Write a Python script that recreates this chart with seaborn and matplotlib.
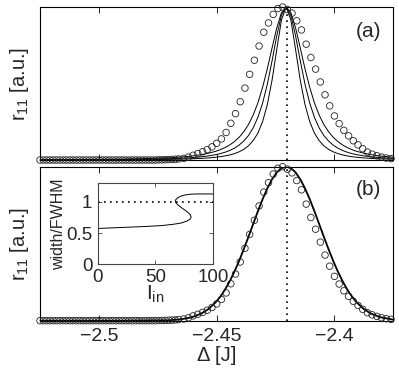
import numpy as np
import pandas as pd
import seaborn as sns
import matplotlib
matplotlib.use('Agg')
import matplotlib.pyplot as plt

# ---- data ----
# open circles (same set in both panels)
circ_x = np.concatenate([np.linspace(-2.525, -2.4662, 43),
                         np.linspace(-2.464, -2.376, 45)])
circ_y = [0.0, 0.0, 0.0, 0.0, 0.0, 0.0, 0.0, 0.0, 0.0, 0.0, 0.0, 0.0,
          0.0, 0.0, 0.0, 0.0, 0.0, 0.0, 0.0, 0.0, 0.0, 0.0, 0.0, 0.0,
          0.0, 0.0, 0.0, 0.0, 0.0, 0.0, 0.0, 0.0, 0.0, 0.0, 0.0, 0.0,
          0.001, 0.0015, 0.002, 0.003, 0.004, 0.005, 0.007,
          0.011, 0.019, 0.031, 0.042, 0.054, 0.068, 0.086, 0.109, 0.138,
          0.180, 0.240, 0.303, 0.381, 0.470, 0.560, 0.652, 0.745, 0.835,
          0.896, 0.952, 0.990, 1.0, 0.984, 0.960, 0.910, 0.850, 0.757,
          0.670, 0.594, 0.510, 0.426, 0.354, 0.288, 0.238, 0.194, 0.158,
          0.126, 0.099, 0.074, 0.052, 0.038, 0.028, 0.019, 0.013, 0.009]

# solid curves
line_x = [-2.525, -2.4905, -2.4705, -2.4655, -2.4605, -2.4565, -2.4535,
          -2.4505, -2.4485, -2.4465, -2.4445, -2.4425, -2.4405, -2.4385,
          -2.4365, -2.4345, -2.4325, -2.4305, -2.4285, -2.4265, -2.4245,
          -2.4225, -2.4205, -2.4185, -2.4165, -2.4145, -2.4125, -2.4105,
          -2.4085, -2.4065, -2.4045, -2.4025, -2.4005, -2.3985, -2.3965,
          -2.3945, -2.3925, -2.3905, -2.3875, -2.3845, -2.3805, -2.3755,
          -2.375]
line_a1 = [0.0017, 0.0054, 0.014, 0.019, 0.026, 0.0351, 0.0442, 0.0565,
           0.0673, 0.081, 0.098, 0.120, 0.148, 0.185, 0.232, 0.294, 0.374,
           0.475, 0.596, 0.732, 0.863, 0.963, 1.0,
           0.963, 0.863, 0.732, 0.596, 0.475, 0.374, 0.294, 0.232, 0.185,
           0.148, 0.120, 0.098, 0.081, 0.0673, 0.0565, 0.0442, 0.0351,
           0.026, 0.019, 0.0185]
line_a2 = [0.0010, 0.0031, 0.0083, 0.0113, 0.0157, 0.0211, 0.0268, 0.0347,
           0.0417, 0.0506, 0.0621, 0.0771, 0.0971, 0.124, 0.160, 0.210,
           0.279, 0.372, 0.495, 0.647, 0.811, 0.947, 1.0,
           0.947, 0.811, 0.647, 0.495, 0.372, 0.279, 0.210, 0.160, 0.124,
           0.0971, 0.0771, 0.0621, 0.0506, 0.0417, 0.0347, 0.0268, 0.0211,
           0.0157, 0.0113, 0.0109]
line_a3 = [0.0005, 0.0015, 0.0041, 0.0056, 0.0079, 0.0107, 0.0137, 0.0179,
           0.0217, 0.0266, 0.0330, 0.0416, 0.0534, 0.0697, 0.093, 0.127,
           0.176, 0.251, 0.362, 0.521, 0.722, 0.916, 1.0,
           0.916, 0.722, 0.521, 0.362, 0.251, 0.176, 0.127, 0.093, 0.0697,
           0.0534, 0.0416, 0.0330, 0.0266, 0.0217, 0.0179, 0.0137, 0.0107,
           0.0079, 0.0056, 0.0055]
line_b = [0.0, 0.0, 0.0027, 0.0082, 0.0224, 0.0461, 0.0755, 0.118, 0.155,
          0.201, 0.255, 0.317, 0.387, 0.464, 0.545, 0.628, 0.711, 0.789,
          0.859, 0.918, 0.963, 0.9905, 1.0,
          0.9905, 0.963, 0.918, 0.859, 0.789, 0.711, 0.628, 0.545, 0.464,
          0.387, 0.317, 0.255, 0.201, 0.155, 0.118, 0.0755, 0.0461, 0.0224,
          0.0082, 0.0069]
delta0 = -2.42

x_ticks = [-2.5, -2.45, -2.4]
x_ticklabels = ['\u22122.5', '\u22122.45', '\u22122.4']

# inset: width/FWHM vs I_in
inset_I = [0, 20, 40, 55, 65, 72, 77, 80, 81, 80, 77, 73, 69.5, 67.5,
           67.5, 69, 72, 76, 80, 85, 100]
inset_w = [0.575, 0.59, 0.605, 0.62, 0.64, 0.66, 0.69, 0.72, 0.76, 0.80,
           0.85, 0.90, 0.95, 0.99, 1.03, 1.06, 1.09, 1.11, 1.12, 1.125,
           1.125]
inset_ref = 1.0
inset_xticks = [0, 50, 100]
inset_yticks = [0, 0.5, 1]
inset_yticklabels = ['0', '0.5', '1']

# ---- style ----
sns.set_theme(style='white')
plt.rcParams['font.family'] = ['Liberation Sans', 'DejaVu Sans']
plt.rcParams['mathtext.fontset'] = 'custom'
plt.rcParams['mathtext.rm'] = 'Liberation Sans'
plt.rcParams['mathtext.it'] = 'Liberation Sans:italic'
plt.rcParams['axes.edgecolor'] = 'black'
plt.rcParams['axes.linewidth'] = 0.8

fig = plt.figure(figsize=(3.99, 3.71), dpi=100)
ax1 = fig.add_axes([0.1003, 0.5687, 0.8855, 0.4124])
ax2 = fig.add_axes([0.1003, 0.1356, 0.8855, 0.4151])
ins = fig.add_axes([0.2456, 0.2871, 0.2882, 0.2197])

# panel (a)
for y in (line_a1, line_a2, line_a3):
    sns.lineplot(x=line_x, y=y, ax=ax1, color='black', lw=0.7,
                 estimator=None, sort=False)
sns.scatterplot(x=circ_x, y=circ_y, ax=ax1, marker='o', s=22,
                facecolor='none', edgecolor='#222222', linewidth=0.6,
                clip_on=False, zorder=3)
ax1.axvline(delta0, color='black', lw=1.2, dashes=(1, 2.6))
ax1.text(0.93, 0.84, '(a)', transform=ax1.transAxes, ha='center',
         va='center', fontsize=15)

# panel (b)
sns.lineplot(x=line_x, y=line_b, ax=ax2, color='black', lw=1.3,
             estimator=None, sort=False)
sns.scatterplot(x=circ_x, y=circ_y, ax=ax2, marker='o', s=22,
                facecolor='none', edgecolor='#222222', linewidth=0.6,
                clip_on=False, zorder=3)
ax2.axvline(delta0, color='black', lw=1.2, dashes=(1, 2.6))
ax2.text(0.93, 0.855, '(b)', transform=ax2.transAxes, ha='center',
         va='center', fontsize=15)

for ax in (ax1, ax2):
    ax.set_xlim(-2.525, -2.375)
    ax.set_ylim(0, 1.0)
    ax.set_yticks([])
    ax.set_xticks(x_ticks)
    ax.tick_params(axis='x', direction='in', top=True, bottom=True,
                   length=4, width=0.6, color='black', labelsize=14, pad=5)
    ax.set_ylabel('r$_{\\mathrm{11}}$ [a.u.]', fontsize=14.5)
    ax.yaxis.set_label_coords(-0.025, 0.5)

ax1.tick_params(axis='x', labelbottom=False)
ax2.set_xticklabels(x_ticklabels)
ax2.set_xlabel('\u0394 [J]', fontsize=14.5)
ax2.xaxis.set_label_coords(0.5, -0.165)

# inset
sns.lineplot(x=inset_I, y=inset_w, ax=ins, color='black', lw=0.7,
             estimator=None, sort=False)
ins.axhline(inset_ref, color='black', lw=1.2, dashes=(1, 2.6))
ins.set_facecolor('white')
ins.set_xlim(0, 100)
ins.set_ylim(0, 1.3)
ins.set_xticks(inset_xticks)
ins.set_yticks(inset_yticks)
ins.set_yticklabels(inset_yticklabels)
ins.tick_params(direction='in', top=True, right=True, bottom=True, left=True,
                length=3, width=0.6, color='#444444', labelsize=13.5)
ins.tick_params(axis='x', pad=3)
ins.tick_params(axis='y', pad=4)
for s in ins.spines.values():
    s.set_color('#444444')
ins.set_ylabel('width/FWHM', fontsize=11.5)
ins.yaxis.set_label_coords(-0.28, 0.5)
ins.set_xlabel('I$_{\\mathrm{in}}$', fontsize=15)
ins.xaxis.set_label_coords(0.5, -0.24)

fig.savefig('out.png', dpi=100)
